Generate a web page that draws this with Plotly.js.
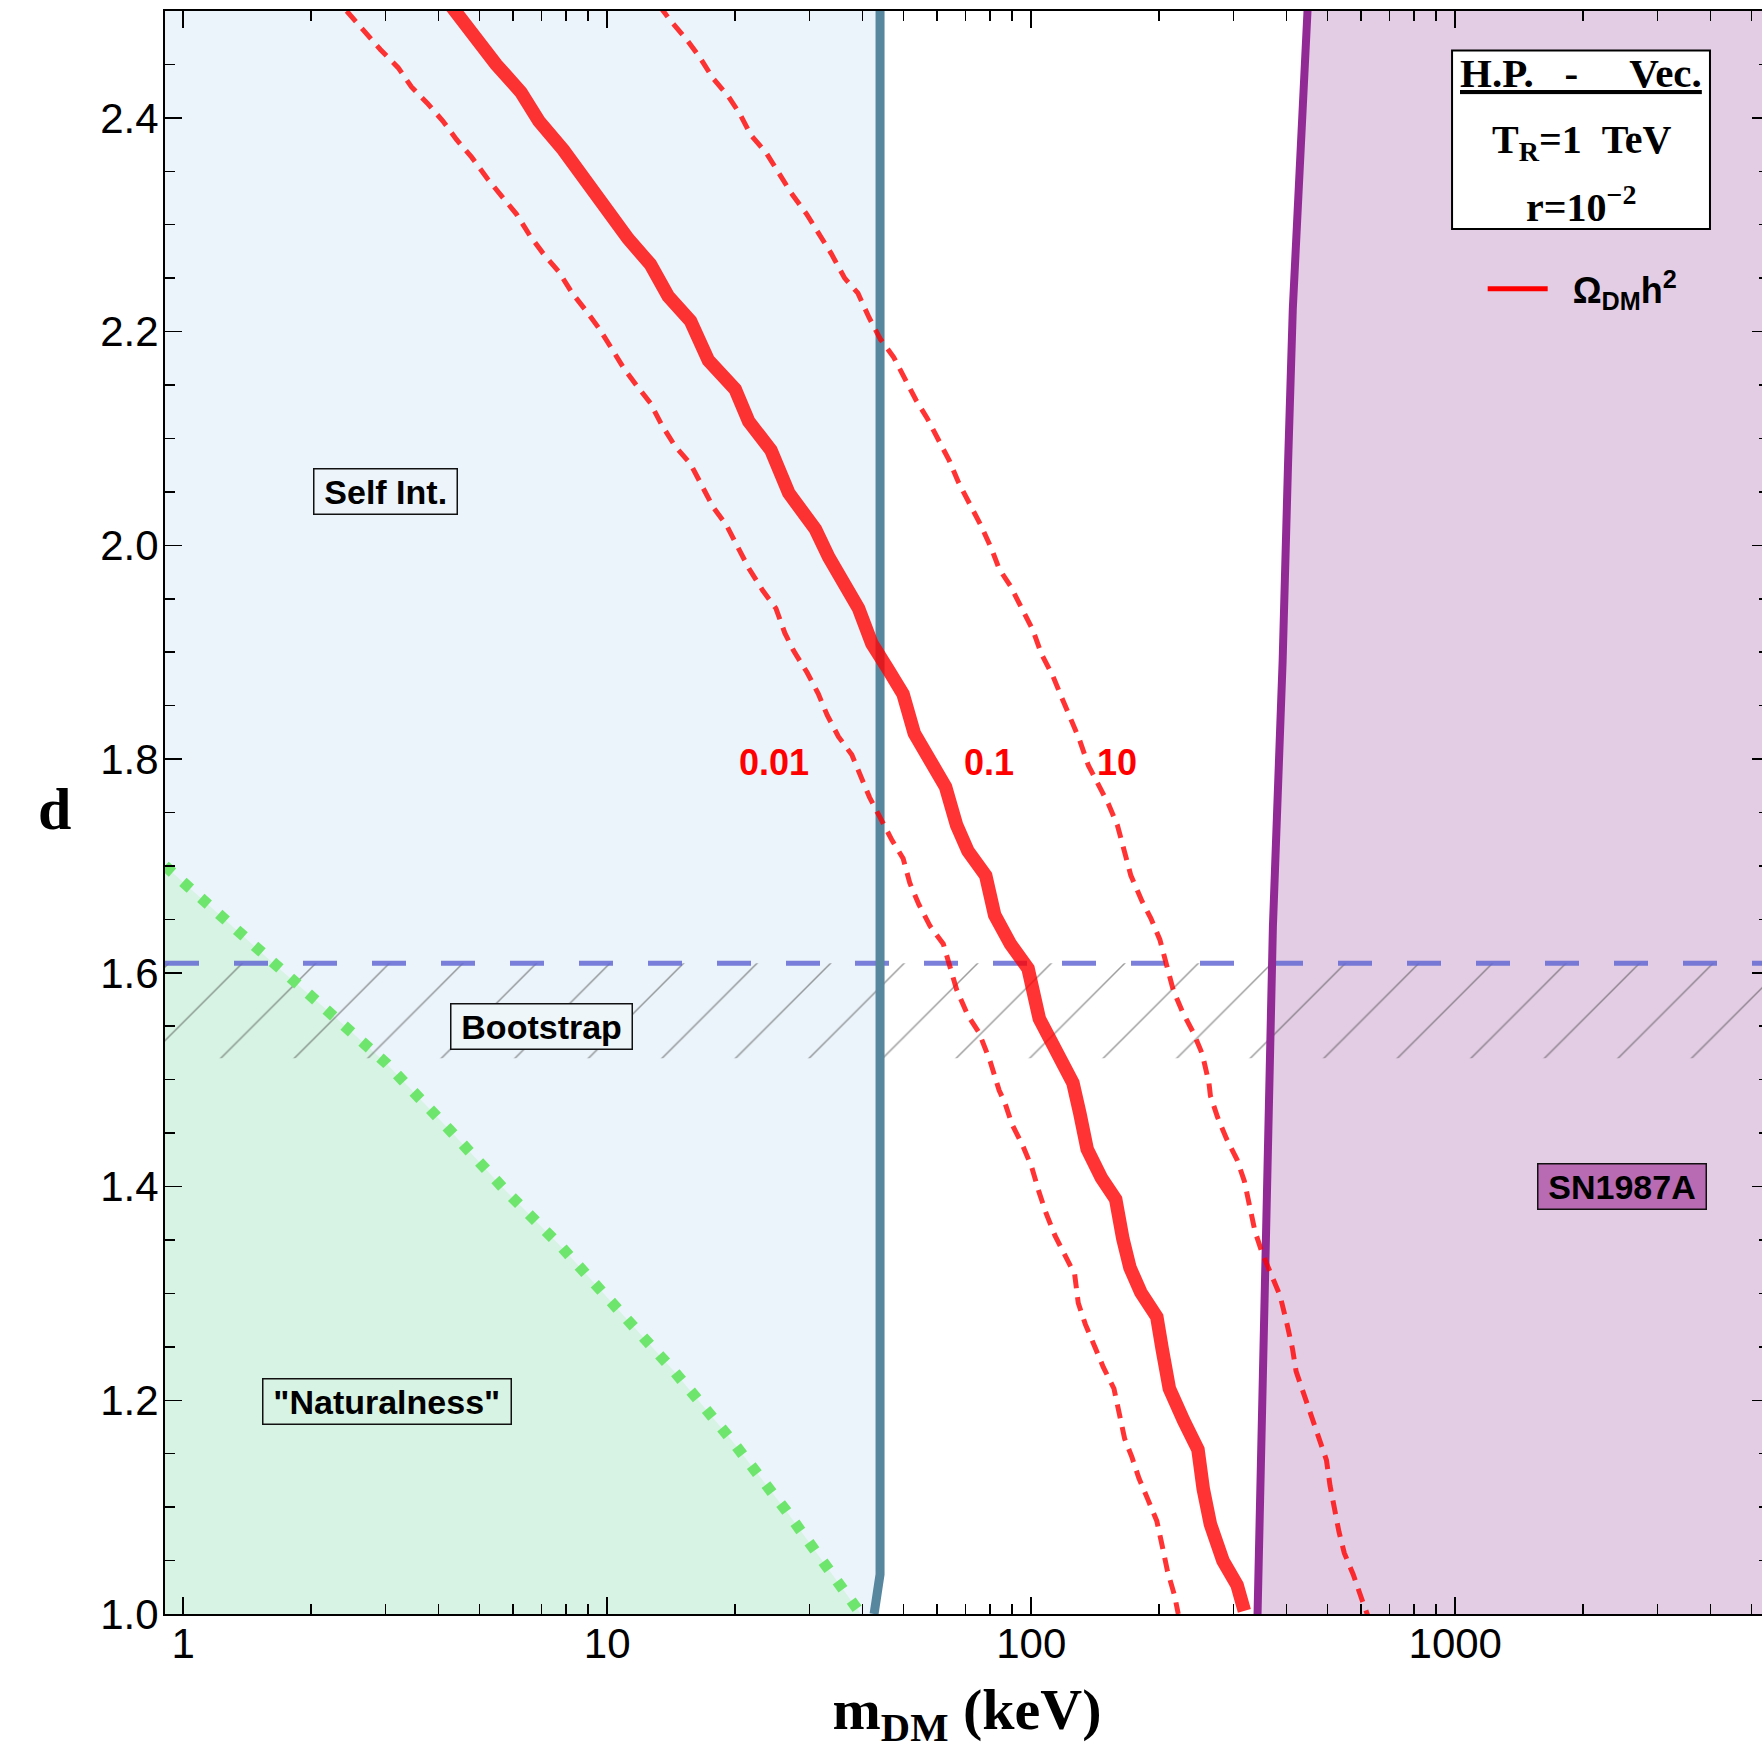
<!DOCTYPE html>
<html>
<head>
<meta charset="utf-8">
<script src="https://cdn.plot.ly/plotly-3.0.1.min.js"></script>
<style>html,body{margin:0;padding:0;overflow:hidden;background:#fff}</style>
</head>
<body>
<div id="chart"></div>
<script>
// ---------------- data (m_DM in keV, d dimensionless) ----------------
const xRangeKeV = [0.906, 5495];
const dRange = [1.0, 2.5];
const xTickVals = [1, 10, 100, 1000];
const xTickText = ['1', '10', '100', '1000'];

// Omega h^2 = 0.1 contour (solid)
const relic01Mass = [4.30, 4.80, 5.47, 6.26, 6.90, 7.88, 8.79, 9.92, 11.2, 12.64,
  13.93, 15.72, 17.33, 20.04, 21.56, 24.33, 26.8, 30.98, 33.3,
  39.15, 42.1, 45.8, 49.85, 53.0, 58.4, 62.8, 66.7, 70.9, 78.1,
  82.0, 89.3, 98.3, 104.5, 115.1, 125.4,
  130.3, 135.5, 146.4, 158.2, 164.5, 171.0, 181.3, 197.8, 203.6, 211.7,
  228.8, 247.3, 254.5, 264.6, 283.2, 305.9, 318.2];
const relic01D = [2.504, 2.477, 2.450, 2.424, 2.397, 2.370, 2.343, 2.317, 2.287, 2.263,
  2.233, 2.210, 2.173, 2.146, 2.116, 2.089, 2.049, 2.015, 1.989,
  1.941, 1.908, 1.885, 1.861, 1.824, 1.794, 1.774, 1.738, 1.714, 1.691,
  1.654, 1.627, 1.604, 1.557, 1.524, 1.497,
  1.468, 1.435, 1.408, 1.388, 1.351, 1.324, 1.301, 1.278, 1.248, 1.211,
  1.181, 1.154, 1.117, 1.084, 1.050, 1.027, 1.003];

// Omega h^2 = 0.01 contour (dashed, left)
const relic001Mass = [2.43, 2.679, 2.917, 3.213, 3.455, 3.760, 4.097, 4.405, 4.794, 5.219,
  5.613, 6.108, 6.568, 7.066, 7.688, 8.272, 8.895, 9.566, 10.29, 10.93,
  11.76, 12.65, 13.43, 14.44, 15.73, 16.71, 17.76, 19.10, 20.53,
  21.61, 23.25, 25.00, 26.23, 27.55, 29.61, 31.47, 33.03, 35.11, 37.75,
  39.62, 41.58, 44.19, 46.96, 49.88, 51.72, 54.32, 57.68, 62.04, 64.34,
  66.73, 70.90, 75.32, 80.04, 84.01,
  86.74, 90.16, 95.59, 100.3, 104.3, 108.4, 113.8, 119.4, 126.6, 129.1,
  134.2, 140.9, 147.9, 156.7, 161.4, 166.1, 172.7, 179.5, 188.5, 197.8,
  203.6, 209.6, 217.9, 222.2];
const relic001D = [2.500, 2.480, 2.464, 2.447, 2.429, 2.414, 2.397, 2.380, 2.363, 2.343,
  2.327, 2.310, 2.290, 2.273, 2.256, 2.236, 2.220, 2.203, 2.183, 2.166,
  2.149, 2.133, 2.113, 2.093, 2.076, 2.056, 2.036, 2.019, 1.996,
  1.978, 1.958, 1.941, 1.918, 1.901, 1.881, 1.861, 1.841, 1.821, 1.804,
  1.784, 1.764, 1.744, 1.724, 1.707, 1.684, 1.664, 1.644, 1.627, 1.604,
  1.584, 1.560, 1.544, 1.517, 1.490,
  1.478, 1.458, 1.438, 1.418, 1.395, 1.375, 1.354, 1.338, 1.318, 1.291,
  1.271, 1.251, 1.231, 1.211, 1.187, 1.164, 1.147, 1.127, 1.107, 1.087,
  1.064, 1.040, 1.017, 1.000];

// Omega h^2 = 10 contour (dashed, right)
const relic10Mass = [13.27, 14.10, 15.35, 16.51, 17.76, 19.32, 20.53, 21.82, 23.74, 25.53,
  27.13, 29.53, 31.76, 33.76, 36.31, 39.02, 41.47, 44.07, 47.39, 50.33,
  53.48, 56.83, 60.39, 64.14, 67.35, 71.56, 76.01, 80.77,
  84.01, 89.28, 94.82, 100.8, 105.8, 112.4, 117.9, 123.8, 130.0, 136.4,
  145.0, 152.1, 159.7, 165.6, 171.8, 182.5, 191.5, 201.1, 208.5, 216.2,
  227.0, 241.2, 253.2, 262.5,
  264.6, 275.0, 288.6, 305.9, 318.2, 327.4, 337.1, 350.4, 368.0, 386.2,
  401.3, 413.3, 421.4, 438.0, 455.5, 478.1, 496.9, 506.7, 516.7, 531.8,
  547.6, 574.6, 603.1, 621.2];
const relic10D = [2.505, 2.491, 2.474, 2.457, 2.437, 2.420, 2.404, 2.384, 2.367, 2.347,
  2.330, 2.310, 2.290, 2.273, 2.250, 2.236, 2.213, 2.193, 2.176, 2.156,
  2.136, 2.119, 2.099, 2.079, 2.059, 2.039, 2.019, 1.996,
  1.978, 1.962, 1.941, 1.921, 1.898, 1.878, 1.858, 1.838, 1.818, 1.794,
  1.774, 1.758, 1.738, 1.714, 1.691, 1.667, 1.651, 1.631, 1.607, 1.584,
  1.564, 1.544, 1.524, 1.497,
  1.485, 1.465, 1.445, 1.425, 1.405, 1.381, 1.358, 1.338, 1.318, 1.298,
  1.271, 1.248, 1.227, 1.207, 1.187, 1.164, 1.144, 1.120, 1.100, 1.077,
  1.057, 1.037, 1.013, 0.999];

// "Naturalness" boundary (green dotted)
const naturalMass = [0.906, 1.136, 1.662, 2.259, 3.02, 4.248, 5.765, 7.82, 10.61, 14.39, 19.53, 26.5, 39.65];
const naturalD    = [1.700, 1.665, 1.606, 1.560, 1.515, 1.453, 1.396, 1.343, 1.285, 1.227, 1.164, 1.096, 1.000];

// Self-interaction bound (vertical steel-blue line)
const selfIntMass = [44.0, 44.0, 42.6];
const selfIntD    = [2.5, 1.037, 1.0];

// SN1987A bound (purple line)
const snMass = [449.6, 430.5, 413.9, 403.4, 396.9, 391.7, 371.5, 363.8, 355.6, 342.6, 341.8];
const snD    = [2.51, 2.366, 2.221, 2.077, 1.941, 1.892, 1.643, 1.481, 1.353, 1.006, 1.0];

// Bootstrap bound
const bootstrapD = 1.609;
const bootstrapHatchLowD = 1.52;

// text labels
const labelText = ['Self Int.', 'Bootstrap', '"Naturalness"', 'SN1987A'];
const labelMass = [3.0, 7.01, 3.02, 2474];
const labelD    = [2.050, 1.550, 1.199, 1.400];
const contourText = ['0.01', '0.1', '10'];
const contourMass = [24.8, 79.5, 159.4];
const contourD    = [1.797, 1.797, 1.797];

// ---------------- figure ----------------
const xLo = 0.3, xHi = 20000, dLo = 0.9, dHi = 2.6;
const SANS = 'Liberation Sans, Arial, Helvetica, sans-serif';
const SERIF = 'Liberation Serif, Times New Roman, serif';
const red = 'rgba(255,0,0,0.8)';

const traces = [];
// Self-interaction excluded region (light blue)
traces.push({x: [xLo].concat(selfIntMass, [xLo]), y: [dHi].concat(selfIntD, [dLo]),
  fill: 'toself', mode: 'none', fillcolor: '#ebf4fa', showlegend: false, hoverinfo: 'skip'});
// Naturalness region (light green)
traces.push({x: [xLo].concat(naturalMass, [naturalMass[naturalMass.length - 1], xLo]),
  y: [naturalD[0]].concat(naturalD, [dLo, dLo]),
  fill: 'toself', mode: 'none', fillcolor: '#d7f3e3', showlegend: false, hoverinfo: 'skip'});
// SN1987A region (lilac)
traces.push({x: snMass.concat([snMass[snMass.length - 1], xHi, xHi]), y: snD.concat([dLo, dLo, dHi]),
  fill: 'toself', mode: 'none', fillcolor: '#e3cde4', showlegend: false, hoverinfo: 'skip'});
// Bootstrap hatch band
traces.push({x: [xLo, xHi, xHi, xLo], y: [bootstrapHatchLowD, bootstrapHatchLowD, bootstrapD, bootstrapD],
  fill: 'toself', mode: 'none', fillcolor: 'rgba(0,0,0,0)',
  fillpattern: {shape: '/', size: 52, solidity: 0.028, fgcolor: 'rgba(60,60,60,0.5)', bgcolor: 'rgba(0,0,0,0)', fillmode: 'replace'},
  showlegend: false, hoverinfo: 'skip'});
// Bootstrap dashed line
traces.push({x: [xRangeKeV[0], xHi], y: [bootstrapD, bootstrapD], mode: 'lines',
  line: {color: 'rgba(100,104,210,0.85)', width: 5, dash: '34px,35px'}, showlegend: false, hoverinfo: 'skip'});
// Self-interaction line
traces.push({x: selfIntMass, y: selfIntD, mode: 'lines', line: {color: '#57869f', width: 9},
  showlegend: false, hoverinfo: 'skip'});
// SN1987A line
traces.push({x: snMass, y: snD, mode: 'lines', line: {color: '#922a96', width: 8},
  showlegend: false, hoverinfo: 'skip'});
// Naturalness dotted line
traces.push({x: naturalMass, y: naturalD, mode: 'lines', line: {color: '#6ee66e', width: 11, dash: '10px,14px'},
  showlegend: false, hoverinfo: 'skip'});
// Relic contours
traces.push({x: relic001Mass, y: relic001D, mode: 'lines', line: {color: red, width: 5, dash: '14px,9px'},
  showlegend: false, hoverinfo: 'skip'});
traces.push({x: relic10Mass, y: relic10D, mode: 'lines', line: {color: red, width: 5, dash: '14px,9px'},
  showlegend: false, hoverinfo: 'skip'});
traces.push({x: relic01Mass, y: relic01D, mode: 'lines', line: {color: red, width: 13.5},
  showlegend: false, hoverinfo: 'skip'});
// legend entry
traces.push({x: [null], y: [null], mode: 'lines', line: {color: '#ff0000', width: 5},
  name: '\u00A0\u00A0Ω<sub>DM</sub>h<sup>2</sup>', showlegend: true, hoverinfo: 'skip'});

const annotations = [];
const boxFill = ['#edf5fa', '#eff6fa', '#d7f3e3', '#b86ab2'];
labelText.forEach((t, i) => {
  annotations.push({x: Math.log10(labelMass[i]), y: labelD[i], xref: 'x', yref: 'y',
    xanchor: 'center', yanchor: 'middle',
    text: '\u2009' + t + '\u2009', showarrow: false,
    font: {family: SANS, size: 34, color: '#000', weight: 'bold'},
    bgcolor: boxFill[i], bordercolor: '#111', borderwidth: 1.5, borderpad: 3});
});
contourText.forEach((t, i) => {
  annotations.push({x: Math.log10(contourMass[i]), y: contourD[i], xref: 'x', yref: 'y',
    xanchor: 'center', yanchor: 'middle',
    text: t, showarrow: false, font: {family: SANS, size: 36, color: '#ff0000', weight: 'bold'}});
});
// y-axis label (upright)
annotations.push({x: -0.0692, y: 0.5022, xref: 'paper', yref: 'paper', xanchor: 'center', yanchor: 'middle',
  text: 'd', showarrow: false, font: {family: SERIF, size: 60, color: '#000', weight: 'bold'}});
// info box texts
const infoX = 0.8828;
annotations.push({x: infoX, y: 0.9616, xref: 'paper', yref: 'paper', xanchor: 'center', yanchor: 'middle', showarrow: false,
  text: '<u>H.P.\u00A0\u00A0\u00A0-\u00A0\u00A0\u00A0\u00A0\u00A0Vec.</u>', font: {family: SERIF, size: 41, color: '#000', weight: 'bold'}});
annotations.push({x: infoX, y: 0.9185, xref: 'paper', yref: 'paper', xanchor: 'center', yanchor: 'middle', showarrow: false,
  text: 'T<sub>R</sub>=1\u00A0\u00A0TeV', font: {family: SERIF, size: 40, color: '#000', weight: 'bold'}});
annotations.push({x: infoX, y: 0.8796, xref: 'paper', yref: 'paper', xanchor: 'center', yanchor: 'middle', showarrow: false,
  text: 'r=10<sup>\u22122</sup>', font: {family: SERIF, size: 40, color: '#000', weight: 'bold'}});

const shapes = [
  {type: 'rect', xref: 'paper', yref: 'paper', x0: 0.8024, x1: 0.9632, y0: 0.864, y1: 0.9753,
   fillcolor: '#ffffff', line: {color: '#000', width: 2}, layer: 'above'}
];

const axisCommon = {
  showgrid: false, zeroline: false, showline: true, linecolor: '#000', linewidth: 2,
  mirror: 'ticks', ticks: 'inside', ticklen: 17, tickwidth: 1.5, tickcolor: '#000',
  tickfont: {family: SANS, size: 42, color: '#000'}, automargin: false
};

const layout = {
  width: 1769, height: 1758,
  margin: {l: 165, r: 0, t: 11, b: 144, pad: 0},
  paper_bgcolor: '#ffffff', plot_bgcolor: '#ffffff',
  showlegend: true,
  legend: {x: 0.8215, y: 0.8266, xanchor: 'left', yanchor: 'middle', bgcolor: 'rgba(0,0,0,0)',
    borderwidth: 0, font: {family: SANS, size: 36, color: '#000', weight: 'bold'}, itemwidth: 60},
  xaxis: Object.assign({}, axisCommon, {
    type: 'log', range: [Math.log10(xRangeKeV[0]), Math.log10(xRangeKeV[1])],
    tickmode: 'array', tickvals: xTickVals, ticktext: xTickText, ticklabelstandoff: -8,
    minor: {ticks: 'inside', ticklen: 10, tickwidth: 1.5, tickcolor: '#000', dtick: 'D1', showgrid: false},
    title: {text: 'm<sub>DM</sub> (keV)', font: {family: SERIF, size: 58, color: '#000', weight: 'bold'}, standoff: 22}
  }),
  yaxis: Object.assign({}, axisCommon, {
    range: dRange, tick0: 1.0, dtick: 0.2, tickformat: '.1f', ticklabelstandoff: -4,
    minor: {ticks: 'inside', ticklen: 10, tickwidth: 1.5, tickcolor: '#000', dtick: 0.05, showgrid: false}
  }),
  annotations: annotations,
  shapes: shapes
};

Plotly.newPlot('chart', traces, layout, {displayModeBar: false, staticPlot: true});
</script>
</body>
</html>
